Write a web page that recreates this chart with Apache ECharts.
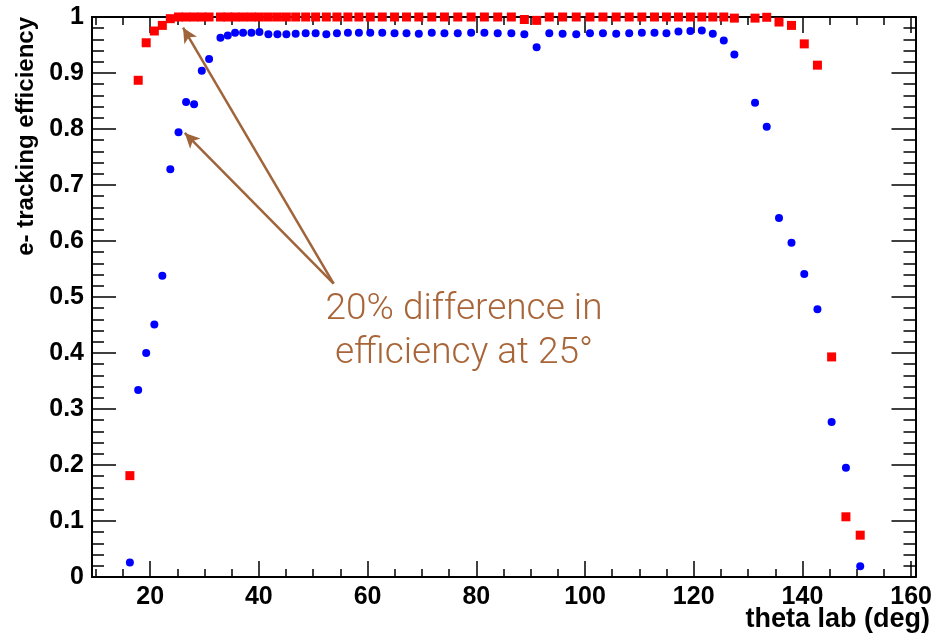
<!DOCTYPE html>
<html>
<head>
<meta charset="utf-8">
<script src="https://cdn.jsdelivr.net/npm/echarts@6/dist/echarts.min.js"></script>
<style>
  html, body { margin: 0; padding: 0; background: #fff; }
  #chart { width: 935px; height: 638px; }
</style>
</head>
<body>
<div id="chart"></div>
<script>
// theta lab (deg) bin centres, shared by both sets of points
var theta = [16.27, 17.80, 19.27, 20.77, 22.24, 23.71, 25.22, 26.61, 28.08, 29.50,
  30.84, 32.93, 34.28, 35.62, 37.09, 38.63, 40.10, 41.75, 43.41, 45.06,
  46.77, 48.61, 50.44, 52.41, 54.36, 56.38, 58.40, 60.49, 62.70, 64.96,
  67.16, 69.42, 71.81, 74.14, 76.59, 79.05, 81.49, 83.94, 86.45, 88.84,
  91.10, 93.43, 95.88, 98.39, 100.91, 103.30, 105.74, 108.13, 110.46, 112.78,
  114.98, 117.19, 119.39, 121.49, 123.51, 125.53, 127.48, 131.28, 133.43, 135.69,
  137.99, 140.34, 142.76, 145.37, 148.00, 150.63];

// blue circles
var effBlue = [0.026, 0.334, 0.400, 0.451, 0.538, 0.728, 0.794, 0.848, 0.844, 0.904,
  0.925, 0.963, 0.967, 0.972, 0.972, 0.972, 0.973, 0.969, 0.969, 0.969,
  0.970, 0.971, 0.971, 0.969, 0.971, 0.972, 0.972, 0.972, 0.972, 0.971,
  0.971, 0.970, 0.972, 0.971, 0.971, 0.972, 0.972, 0.971, 0.971, 0.969,
  0.946, 0.971, 0.970, 0.969, 0.971, 0.971, 0.970, 0.971, 0.972, 0.972,
  0.971, 0.974, 0.975, 0.976, 0.970, 0.958, 0.933, 0.847, 0.804, 0.641,
  0.597, 0.541, 0.478, 0.277, 0.195, 0.019];

// red squares
var effRed = [0.181, 0.887, 0.954, 0.975, 0.985, 0.997, 1.0, 1.0, 1.0, 1.0,
  1.0, 1.0, 1.0, 1.0, 1.0, 1.0, 1.0, 1.0, 1.0, 1.0,
  1.0, 1.0, 1.0, 1.0, 1.0, 1.0, 1.0, 1.0, 1.0, 1.0,
  1.0, 1.0, 1.0, 1.0, 1.0, 1.0, 1.0, 1.0, 1.0, 0.9955,
  0.994, 1.0, 1.0, 1.0, 1.0, 1.0, 1.0, 1.0, 1.0, 1.0,
  1.0, 1.0, 1.0, 1.0, 1.0, 1.0, 0.998, 0.998, 0.9995, 0.991,
  0.985, 0.952, 0.914, 0.393, 0.1075, 0.0747];

// tick values on the theta axis
var xMajorTicks = [20, 40, 60, 80, 100, 120, 140, 160];
var xMinorTicks = [10, 15, 25, 30, 35, 45, 50, 55, 65, 70, 75, 85, 90, 95,
  105, 110, 115, 125, 130, 135, 145, 150, 155];

// arrows: tail, then the two tips
var arrowTail = [53.75, 0.524];
var arrowTips = [[26.05, 0.981], [26.37, 0.793]];

var noteLines = ['20% difference in', 'efficiency at 25°'];

var chart = echarts.init(document.getElementById('chart'));

var labelFont = {
  fontFamily: 'Liberation Sans, Arial, sans-serif',
  fontWeight: 'bold',
  fontSize: 25,
  color: '#000'
};
var axisLine = { show: true, lineStyle: { color: '#000', width: 2 } };

function xAxisDef(pos, ticks, len, labels) {
  return {
    type: 'value',
    position: pos,
    min: 9.3,
    max: 160.8,
    axisLine: axisLine,
    splitLine: { show: false },
    axisTick: { show: true, inside: true, length: len, customValues: ticks,
      lineStyle: { color: '#000', width: 1.5 } },
    axisLabel: labels ? Object.assign({ show: true, margin: 8, customValues: xMajorTicks }, labelFont)
                      : { show: false }
  };
}

function yAxisDef(pos, labels) {
  return {
    type: 'value',
    position: pos,
    min: 0,
    max: 1,
    interval: 0.1,
    axisLine: axisLine,
    splitLine: { show: false },
    axisTick: { show: true, inside: true, length: 24, lineStyle: { color: '#000', width: 1.5 } },
    minorTick: { show: true, splitNumber: 5, length: 12, lineStyle: { color: '#000', width: 1.5 } },
    axisLabel: labels ? Object.assign({
      show: true, margin: 8,
      formatter: function (v) { return (v === 0 || v === 1) ? String(v) : v.toFixed(1); }
    }, labelFont) : { show: false }
  };
}

var option = {
  backgroundColor: '#fff',
  animation: false,
  grid: { left: 92, right: 18, top: 17, bottom: 61 },
  xAxis: [
    xAxisDef('bottom', xMajorTicks, 16, true),
    xAxisDef('bottom', xMinorTicks, 8, false),
    xAxisDef('top', xMajorTicks, 16, false),
    xAxisDef('top', xMinorTicks, 8, false)
  ],
  yAxis: [
    yAxisDef('left', true),
    yAxisDef('right', false)
  ],
  series: [
    {
      type: 'scatter',
      symbol: 'circle',
      symbolSize: 8,
      clip: false,
      itemStyle: { color: '#0000ff', opacity: 1 },
      data: theta.map(function (t, i) { return [t, effBlue[i]]; }),
      markLine: {
        silent: true,
        symbol: ['none', 'arrow'],
        symbolSize: [11, 15],
        label: { show: false },
        lineStyle: { color: '#a0643a', width: 2.5, type: 'solid', opacity: 1 },
        data: arrowTips.map(function (tip) {
          return [{ coord: arrowTail }, { coord: tip }];
        })
      }
    },
    {
      type: 'scatter',
      symbol: 'rect',
      symbolSize: 9,
      clip: false,
      itemStyle: { color: '#ff0000', opacity: 1 },
      data: theta.map(function (t, i) { return [t, effRed[i]]; })
    }
  ],
  graphic: [
    {
      type: 'text',
      x: 26, y: 17,
      rotation: Math.PI / 2,
      style: {
        text: 'e- tracking efficiency',
        align: 'right',
        verticalAlign: 'middle',
        font: 'bold 24px "Liberation Sans", Arial, sans-serif',
        fill: '#000'
      }
    },
    {
      type: 'text',
      x: 930, y: 620,
      style: {
        text: 'theta lab (deg)',
        align: 'right',
        verticalAlign: 'middle',
        font: 'bold 27px "Liberation Sans", Arial, sans-serif',
        fill: '#000'
      }
    },
    {
      type: 'text',
      x: 464, y: 310,
      style: {
        text: noteLines[0],
        align: 'center',
        verticalAlign: 'middle',
        font: '300 37px Roboto, "Liberation Sans", Arial, sans-serif',
        fill: '#a86538'
      }
    },
    {
      type: 'text',
      x: 464, y: 354,
      style: {
        text: noteLines[1],
        align: 'center',
        verticalAlign: 'middle',
        font: '300 37px Roboto, "Liberation Sans", Arial, sans-serif',
        fill: '#a86538'
      }
    }
  ]
};

chart.setOption(option);
</script>
</body>
</html>
